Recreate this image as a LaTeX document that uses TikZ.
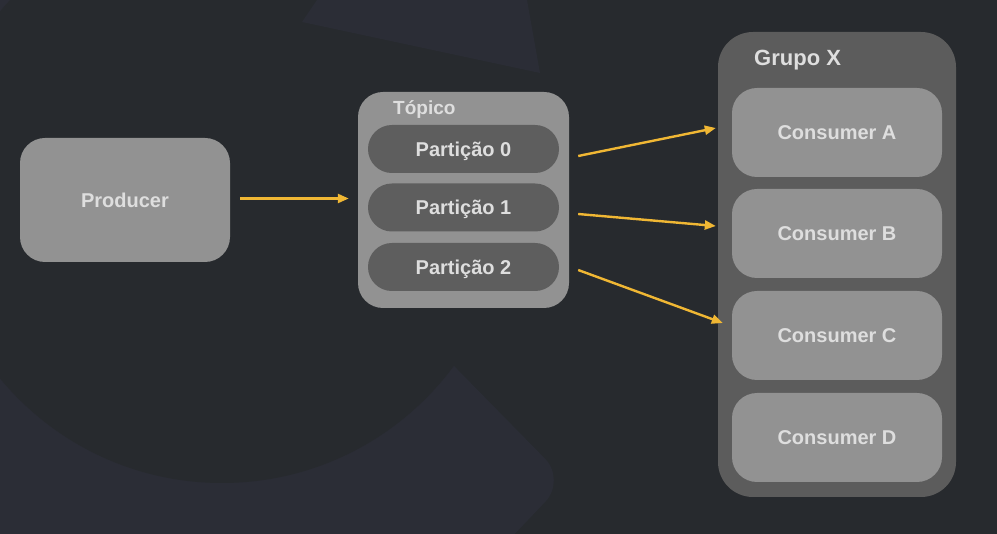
\documentclass[tikz,border=0pt]{standalone}
\usepackage{fontspec}
\setmainfont{Liberation Sans}
\usetikzlibrary{arrows.meta}

\begin{document}
\begin{tikzpicture}[x=1pt,y=-1pt]
        % Define colors - dark backdrop, gray cards, yellow flow
        \definecolor{bgdark}{RGB}{39,42,46}
        \definecolor{bglight}{RGB}{43,45,54}
        \definecolor{cardgray}{RGB}{146,146,146}
        \definecolor{pillgray}{RGB}{94,94,94}
        \definecolor{groupgray}{RGB}{92,92,92}
        \definecolor{labelgray}{RGB}{222,222,222}
        \definecolor{flowyellow}{RGB}{240,183,52}

        \tikzset{
            card/.style={fill=cardgray, rounded corners=25pt, inner sep=0pt,
                text=labelgray, font=\fontsize{20}{24}\selectfont\bfseries,
                text height=14.3pt, text depth=0pt},
            pill/.style={card, fill=pillgray, rounded corners=23.9pt,
                minimum width=191pt, minimum height=48pt},
            consumer/.style={card, minimum width=210pt, minimum height=89pt},
            caption/.style={text=labelgray, inner sep=0pt, anchor=base west},
            flow/.style={draw=flowyellow, line width=2.4pt,
                -{Triangle[length=11pt,width=9pt]}},
        }

        % Background
        \useasboundingbox (0,0) rectangle (997,534);
        \begin{scope}
            \clip (0,0) rectangle (997,534);
            \fill[bgdark] (0,0) rectangle (997,534);
            \fill[bglight] (0,0) -- (50,0) -- (348,258)
                [rounded corners=30pt] -- (566,480) -- (490,560)
                [sharp corners] -- (0,560) -- cycle;
            \fill[bgdark] (222,195) circle[radius=288];
            \fill[bglight] (302,22) -- (317,0) -- (527,0) -- (540,73) -- cycle;
        \end{scope}

        % Producer
        \node[card, minimum width=210pt, minimum height=124pt] (producer) at (125,200) {Producer};

        % Topic with its partitions
        \node[card, minimum width=211pt, minimum height=216pt] (topico) at (463.5,200) {};
        \node[caption, font=\fontsize{19}{23}\selectfont\bfseries] (topicolabel) at (393,115) {Tópico};
        \node[pill] (part0) at (463.5,149) {Partição 0};
        \node[pill] (part1) at (463.5,207.5) {Partição 1};
        \node[pill] (part2) at (463.5,267) {Partição 2};

        % Consumer group
        \node[fill=groupgray, rounded corners=35pt, minimum width=238pt, minimum height=465pt] (grupo) at (837,264.5) {};
        \node[caption, font=\fontsize{22}{26}\selectfont\bfseries] (grupolabel) at (754,66) {Grupo X};
        \node[consumer] (consA) at (837,132.5) {Consumer A};
        \node[consumer] (consB) at (837,233.5) {Consumer B};
        \node[consumer] (consC) at (837,335.5) {Consumer C};
        \node[consumer] (consD) at (837,437.5) {Consumer D};

        % Arrows
        \draw[flow] ([xshift=10pt,yshift=1.5pt]producer.east) -- ([xshift=-9pt,yshift=1.5pt]topico.west);
        \draw[flow] ([xshift=19pt,yshift=-7pt]part0.east) -- ([xshift=-16pt,yshift=4.5pt]consA.west);
        \draw[flow] ([xshift=19pt,yshift=-6.5pt]part1.east) -- ([xshift=-16pt,yshift=7.5pt]consB.west);
        \draw[flow] ([xshift=19pt,yshift=-3pt]part2.east) -- ([xshift=-9pt,yshift=12.5pt]consC.west);
    \end{tikzpicture}
\end{document}
